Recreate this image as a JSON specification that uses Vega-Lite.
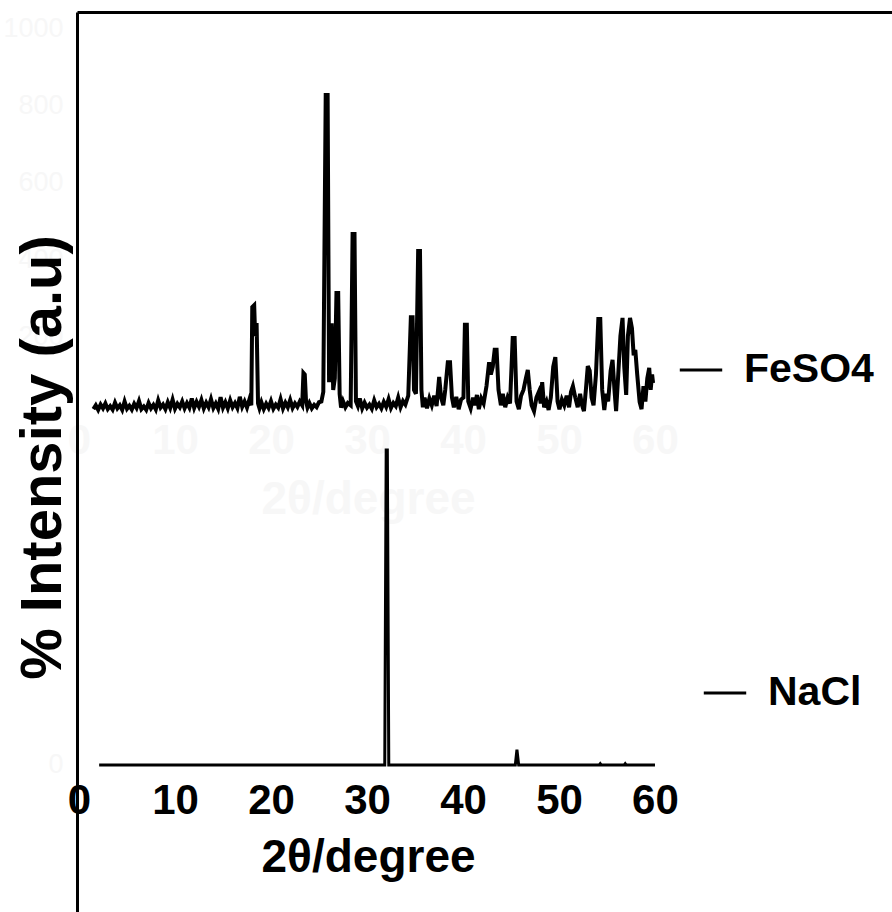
{
  "$schema": "https://vega.github.io/schema/vega-lite/v6.json",
  "width": 815,
  "height": 900,
  "autosize": "none",
  "padding": {"left": 77, "top": 12, "right": 0, "bottom": 0},
  "background": "white",
  "config": {"view": {"stroke": null}, "font": "Liberation Sans"},
  "datasets": {
    "feso4": [
      {"sample":"FeSO4","theta":1.5,"intensity":10},{"sample":"FeSO4","theta":1.75,"intensity":20},{"sample":"FeSO4","theta":2.0,"intensity":8},{"sample":"FeSO4","theta":2.25,"intensity":22},{"sample":"FeSO4","theta":2.5,"intensity":12},{"sample":"FeSO4","theta":2.75,"intensity":25},{"sample":"FeSO4","theta":3.0,"intensity":10},{"sample":"FeSO4","theta":3.25,"intensity":18},{"sample":"FeSO4","theta":3.5,"intensity":9},{"sample":"FeSO4","theta":3.75,"intensity":27},{"sample":"FeSO4","theta":4.0,"intensity":12},{"sample":"FeSO4","theta":4.25,"intensity":20},{"sample":"FeSO4","theta":4.5,"intensity":8},{"sample":"FeSO4","theta":4.75,"intensity":30},{"sample":"FeSO4","theta":5.0,"intensity":11},{"sample":"FeSO4","theta":5.25,"intensity":19},{"sample":"FeSO4","theta":5.5,"intensity":9},{"sample":"FeSO4","theta":5.75,"intensity":24},{"sample":"FeSO4","theta":6.0,"intensity":13},{"sample":"FeSO4","theta":6.25,"intensity":31},{"sample":"FeSO4","theta":6.5,"intensity":10},{"sample":"FeSO4","theta":6.75,"intensity":17},{"sample":"FeSO4","theta":7.0,"intensity":8},{"sample":"FeSO4","theta":7.25,"intensity":26},{"sample":"FeSO4","theta":7.5,"intensity":12},{"sample":"FeSO4","theta":7.75,"intensity":21},{"sample":"FeSO4","theta":8.0,"intensity":9},{"sample":"FeSO4","theta":8.25,"intensity":33},{"sample":"FeSO4","theta":8.5,"intensity":14},{"sample":"FeSO4","theta":8.75,"intensity":22},{"sample":"FeSO4","theta":9.0,"intensity":10},{"sample":"FeSO4","theta":9.25,"intensity":28},{"sample":"FeSO4","theta":9.5,"intensity":13},{"sample":"FeSO4","theta":9.75,"intensity":35},{"sample":"FeSO4","theta":10.0,"intensity":11},{"sample":"FeSO4","theta":10.25,"intensity":24},{"sample":"FeSO4","theta":10.5,"intensity":15},{"sample":"FeSO4","theta":10.75,"intensity":30},{"sample":"FeSO4","theta":11.0,"intensity":12},{"sample":"FeSO4","theta":11.25,"intensity":26},{"sample":"FeSO4","theta":11.5,"intensity":14},{"sample":"FeSO4","theta":11.75,"intensity":38},{"sample":"FeSO4","theta":12.0,"intensity":13},{"sample":"FeSO4","theta":12.25,"intensity":29},{"sample":"FeSO4","theta":12.5,"intensity":16},{"sample":"FeSO4","theta":12.75,"intensity":34},{"sample":"FeSO4","theta":13.0,"intensity":12},{"sample":"FeSO4","theta":13.25,"intensity":27},{"sample":"FeSO4","theta":13.5,"intensity":15},{"sample":"FeSO4","theta":13.75,"intensity":36},{"sample":"FeSO4","theta":14.0,"intensity":13},{"sample":"FeSO4","theta":14.25,"intensity":25},{"sample":"FeSO4","theta":14.5,"intensity":11},{"sample":"FeSO4","theta":14.75,"intensity":41},{"sample":"FeSO4","theta":15.0,"intensity":14},{"sample":"FeSO4","theta":15.25,"intensity":28},{"sample":"FeSO4","theta":15.5,"intensity":12},{"sample":"FeSO4","theta":15.75,"intensity":33},{"sample":"FeSO4","theta":16.0,"intensity":15},{"sample":"FeSO4","theta":16.25,"intensity":26},{"sample":"FeSO4","theta":16.5,"intensity":13},{"sample":"FeSO4","theta":16.75,"intensity":42},{"sample":"FeSO4","theta":17.0,"intensity":16},{"sample":"FeSO4","theta":17.25,"intensity":30},{"sample":"FeSO4","theta":17.5,"intensity":14},{"sample":"FeSO4","theta":17.75,"intensity":35},{"sample":"FeSO4","theta":17.95,"intensity":20},{"sample":"FeSO4","theta":18.05,"intensity":275},{"sample":"FeSO4","theta":18.25,"intensity":280},{"sample":"FeSO4","theta":18.35,"intensity":200},{"sample":"FeSO4","theta":18.5,"intensity":234},{"sample":"FeSO4","theta":18.65,"intensity":25},{"sample":"FeSO4","theta":18.8,"intensity":12},{"sample":"FeSO4","theta":19.0,"intensity":28},{"sample":"FeSO4","theta":19.25,"intensity":10},{"sample":"FeSO4","theta":19.5,"intensity":24},{"sample":"FeSO4","theta":19.75,"intensity":13},{"sample":"FeSO4","theta":20.0,"intensity":31},{"sample":"FeSO4","theta":20.25,"intensity":11},{"sample":"FeSO4","theta":20.5,"intensity":22},{"sample":"FeSO4","theta":20.75,"intensity":14},{"sample":"FeSO4","theta":21.0,"intensity":36},{"sample":"FeSO4","theta":21.25,"intensity":12},{"sample":"FeSO4","theta":21.5,"intensity":27},{"sample":"FeSO4","theta":21.75,"intensity":15},{"sample":"FeSO4","theta":22.0,"intensity":34},{"sample":"FeSO4","theta":22.25,"intensity":13},{"sample":"FeSO4","theta":22.5,"intensity":25},{"sample":"FeSO4","theta":22.75,"intensity":16},{"sample":"FeSO4","theta":23.0,"intensity":30},{"sample":"FeSO4","theta":23.25,"intensity":20},{"sample":"FeSO4","theta":23.38,"intensity":104},{"sample":"FeSO4","theta":23.52,"intensity":100},{"sample":"FeSO4","theta":23.65,"intensity":30},{"sample":"FeSO4","theta":23.8,"intensity":14},{"sample":"FeSO4","theta":24.0,"intensity":26},{"sample":"FeSO4","theta":24.25,"intensity":12},{"sample":"FeSO4","theta":24.5,"intensity":21},{"sample":"FeSO4","theta":24.75,"intensity":15},{"sample":"FeSO4","theta":25.0,"intensity":28},{"sample":"FeSO4","theta":25.25,"intensity":30},{"sample":"FeSO4","theta":25.45,"intensity":55},{"sample":"FeSO4","theta":25.7,"intensity":826},{"sample":"FeSO4","theta":25.9,"intensity":826},{"sample":"FeSO4","theta":26.05,"intensity":80},{"sample":"FeSO4","theta":26.18,"intensity":228},{"sample":"FeSO4","theta":26.33,"intensity":228},{"sample":"FeSO4","theta":26.48,"intensity":60},{"sample":"FeSO4","theta":26.65,"intensity":90},{"sample":"FeSO4","theta":26.82,"intensity":312},{"sample":"FeSO4","theta":27.0,"intensity":312},{"sample":"FeSO4","theta":27.15,"intensity":50},{"sample":"FeSO4","theta":27.3,"intensity":14},{"sample":"FeSO4","theta":27.5,"intensity":31},{"sample":"FeSO4","theta":27.75,"intensity":15},{"sample":"FeSO4","theta":28.0,"intensity":26},{"sample":"FeSO4","theta":28.3,"intensity":20},{"sample":"FeSO4","theta":28.5,"intensity":465},{"sample":"FeSO4","theta":28.7,"intensity":465},{"sample":"FeSO4","theta":28.85,"intensity":30},{"sample":"FeSO4","theta":29.05,"intensity":18},{"sample":"FeSO4","theta":29.25,"intensity":38},{"sample":"FeSO4","theta":29.5,"intensity":12},{"sample":"FeSO4","theta":29.75,"intensity":27},{"sample":"FeSO4","theta":30.0,"intensity":14},{"sample":"FeSO4","theta":30.25,"intensity":22},{"sample":"FeSO4","theta":30.5,"intensity":11},{"sample":"FeSO4","theta":30.75,"intensity":33},{"sample":"FeSO4","theta":31.0,"intensity":15},{"sample":"FeSO4","theta":31.25,"intensity":24},{"sample":"FeSO4","theta":31.5,"intensity":12},{"sample":"FeSO4","theta":31.75,"intensity":29},{"sample":"FeSO4","theta":32.0,"intensity":16},{"sample":"FeSO4","theta":32.25,"intensity":36},{"sample":"FeSO4","theta":32.5,"intensity":13},{"sample":"FeSO4","theta":32.75,"intensity":26},{"sample":"FeSO4","theta":33.0,"intensity":18},{"sample":"FeSO4","theta":33.25,"intensity":40},{"sample":"FeSO4","theta":33.5,"intensity":15},{"sample":"FeSO4","theta":33.75,"intensity":31},{"sample":"FeSO4","theta":34.0,"intensity":22},{"sample":"FeSO4","theta":34.3,"intensity":45},{"sample":"FeSO4","theta":34.57,"intensity":249},{"sample":"FeSO4","theta":34.75,"intensity":249},{"sample":"FeSO4","theta":34.9,"intensity":60},{"sample":"FeSO4","theta":35.1,"intensity":50},{"sample":"FeSO4","theta":35.33,"intensity":421},{"sample":"FeSO4","theta":35.52,"intensity":421},{"sample":"FeSO4","theta":35.67,"intensity":60},{"sample":"FeSO4","theta":35.82,"intensity":15},{"sample":"FeSO4","theta":36.0,"intensity":40},{"sample":"FeSO4","theta":36.25,"intensity":12},{"sample":"FeSO4","theta":36.5,"intensity":38},{"sample":"FeSO4","theta":36.75,"intensity":20},{"sample":"FeSO4","theta":37.0,"intensity":45},{"sample":"FeSO4","theta":37.25,"intensity":18},{"sample":"FeSO4","theta":37.52,"intensity":94},{"sample":"FeSO4","theta":37.72,"intensity":40},{"sample":"FeSO4","theta":37.95,"intensity":20},{"sample":"FeSO4","theta":38.15,"intensity":60},{"sample":"FeSO4","theta":38.42,"intensity":132},{"sample":"FeSO4","theta":38.65,"intensity":132},{"sample":"FeSO4","theta":38.85,"intensity":40},{"sample":"FeSO4","theta":39.05,"intensity":15},{"sample":"FeSO4","theta":39.3,"intensity":42},{"sample":"FeSO4","theta":39.55,"intensity":10},{"sample":"FeSO4","theta":39.8,"intensity":35},{"sample":"FeSO4","theta":40.05,"intensity":40},{"sample":"FeSO4","theta":40.2,"intensity":229},{"sample":"FeSO4","theta":40.4,"intensity":229},{"sample":"FeSO4","theta":40.55,"intensity":30},{"sample":"FeSO4","theta":40.8,"intensity":12},{"sample":"FeSO4","theta":41.05,"intensity":40},{"sample":"FeSO4","theta":41.25,"intensity":20},{"sample":"FeSO4","theta":41.45,"intensity":47},{"sample":"FeSO4","theta":41.65,"intensity":10},{"sample":"FeSO4","theta":41.9,"intensity":38},{"sample":"FeSO4","theta":42.15,"intensity":25},{"sample":"FeSO4","theta":42.45,"intensity":70},{"sample":"FeSO4","theta":42.72,"intensity":132},{"sample":"FeSO4","theta":42.9,"intensity":100},{"sample":"FeSO4","theta":43.1,"intensity":120},{"sample":"FeSO4","theta":43.3,"intensity":164},{"sample":"FeSO4","theta":43.5,"intensity":164},{"sample":"FeSO4","theta":43.7,"intensity":60},{"sample":"FeSO4","theta":43.95,"intensity":20},{"sample":"FeSO4","theta":44.15,"intensity":50},{"sample":"FeSO4","theta":44.4,"intensity":15},{"sample":"FeSO4","theta":44.65,"intensity":40},{"sample":"FeSO4","theta":44.9,"intensity":25},{"sample":"FeSO4","theta":45.18,"intensity":195},{"sample":"FeSO4","theta":45.38,"intensity":195},{"sample":"FeSO4","theta":45.58,"intensity":30},{"sample":"FeSO4","theta":45.82,"intensity":10},{"sample":"FeSO4","theta":46.05,"intensity":45},{"sample":"FeSO4","theta":46.3,"intensity":60},{"sample":"FeSO4","theta":46.55,"intensity":90},{"sample":"FeSO4","theta":46.75,"intensity":112},{"sample":"FeSO4","theta":46.95,"intensity":60},{"sample":"FeSO4","theta":47.15,"intensity":20},{"sample":"FeSO4","theta":47.4,"intensity":5},{"sample":"FeSO4","theta":47.65,"intensity":40},{"sample":"FeSO4","theta":47.9,"intensity":55},{"sample":"FeSO4","theta":48.1,"intensity":25},{"sample":"FeSO4","theta":48.25,"intensity":80},{"sample":"FeSO4","theta":48.45,"intensity":15},{"sample":"FeSO4","theta":48.7,"intensity":30},{"sample":"FeSO4","theta":48.92,"intensity":8},{"sample":"FeSO4","theta":49.15,"intensity":40},{"sample":"FeSO4","theta":49.4,"intensity":120},{"sample":"FeSO4","theta":49.62,"intensity":145},{"sample":"FeSO4","theta":49.85,"intensity":30},{"sample":"FeSO4","theta":50.05,"intensity":10},{"sample":"FeSO4","theta":50.3,"intensity":35},{"sample":"FeSO4","theta":50.55,"intensity":20},{"sample":"FeSO4","theta":50.8,"intensity":45},{"sample":"FeSO4","theta":51.05,"intensity":15},{"sample":"FeSO4","theta":51.25,"intensity":55},{"sample":"FeSO4","theta":51.45,"intensity":70},{"sample":"FeSO4","theta":51.7,"intensity":40},{"sample":"FeSO4","theta":51.95,"intensity":15},{"sample":"FeSO4","theta":52.2,"intensity":50},{"sample":"FeSO4","theta":52.4,"intensity":20},{"sample":"FeSO4","theta":52.6,"intensity":5},{"sample":"FeSO4","theta":52.8,"intensity":60},{"sample":"FeSO4","theta":53.0,"intensity":122},{"sample":"FeSO4","theta":53.2,"intensity":110},{"sample":"FeSO4","theta":53.4,"intensity":40},{"sample":"FeSO4","theta":53.6,"intensity":20},{"sample":"FeSO4","theta":53.85,"intensity":100},{"sample":"FeSO4","theta":54.1,"intensity":244},{"sample":"FeSO4","theta":54.3,"intensity":244},{"sample":"FeSO4","theta":54.5,"intensity":60},{"sample":"FeSO4","theta":54.72,"intensity":8},{"sample":"FeSO4","theta":54.92,"intensity":50},{"sample":"FeSO4","theta":55.12,"intensity":30},{"sample":"FeSO4","theta":55.38,"intensity":110},{"sample":"FeSO4","theta":55.58,"intensity":138},{"sample":"FeSO4","theta":55.78,"intensity":60},{"sample":"FeSO4","theta":55.95,"intensity":5},{"sample":"FeSO4","theta":56.15,"intensity":90},{"sample":"FeSO4","theta":56.4,"intensity":200},{"sample":"FeSO4","theta":56.62,"intensity":247},{"sample":"FeSO4","theta":56.8,"intensity":120},{"sample":"FeSO4","theta":57.0,"intensity":47},{"sample":"FeSO4","theta":57.18,"intensity":200},{"sample":"FeSO4","theta":57.4,"intensity":247},{"sample":"FeSO4","theta":57.6,"intensity":220},{"sample":"FeSO4","theta":57.78,"intensity":150},{"sample":"FeSO4","theta":57.95,"intensity":164},{"sample":"FeSO4","theta":58.15,"intensity":100},{"sample":"FeSO4","theta":58.4,"intensity":29},{"sample":"FeSO4","theta":58.6,"intensity":10},{"sample":"FeSO4","theta":58.8,"intensity":70},{"sample":"FeSO4","theta":59.0,"intensity":30},{"sample":"FeSO4","theta":59.2,"intensity":90},{"sample":"FeSO4","theta":59.4,"intensity":117},{"sample":"FeSO4","theta":59.55,"intensity":60},{"sample":"FeSO4","theta":59.7,"intensity":100},{"sample":"FeSO4","theta":59.8,"intensity":78}
    ],
    "nacl": [
      {"sample":"NaCl","theta":2.1,"intensity":0},{"sample":"NaCl","theta":10,"intensity":0},{"sample":"NaCl","theta":20,"intensity":0},{"sample":"NaCl","theta":31.85,"intensity":0},{"sample":"NaCl","theta":32.0,"intensity":49600},{"sample":"NaCl","theta":32.12,"intensity":49600},{"sample":"NaCl","theta":32.27,"intensity":0},{"sample":"NaCl","theta":40,"intensity":0},{"sample":"NaCl","theta":45.45,"intensity":0},{"sample":"NaCl","theta":45.62,"intensity":2400},{"sample":"NaCl","theta":45.8,"intensity":0},{"sample":"NaCl","theta":54.2,"intensity":0},{"sample":"NaCl","theta":54.3,"intensity":200},{"sample":"NaCl","theta":54.4,"intensity":0},{"sample":"NaCl","theta":56.8,"intensity":0},{"sample":"NaCl","theta":56.9,"intensity":200},{"sample":"NaCl","theta":57.0,"intensity":0},{"sample":"NaCl","theta":60,"intensity":0}
    ]
  },
  "layer": [
    {
      "data": {"name": "feso4"},
      "mark": {"type": "point", "opacity": 0},
      "encoding": {
        "x": {"field": "theta", "type": "quantitative", "scale": {"domain": [-0.208, 84.69], "nice": false, "zero": false},
          "axis": {"orient": "top", "labels": false, "ticks": false, "grid": false, "domain": true, "domainColor": "black", "domainWidth": 3, "title": null}},
        "y": {"field": "intensity", "type": "quantitative", "scale": {"domain": [-1296.1, 1041.6], "nice": false, "zero": false}, "axis": null}
      }
    },
    {
      "data": {"name": "feso4"},
      "mark": {"type": "line", "strokeWidth": 4},
      "encoding": {
        "x": {"field": "theta", "type": "quantitative", "scale": {"domain": [-0.208, 84.69], "nice": false, "zero": false},
          "axis": {"orient": "bottom", "offset": -492, "values": [0,10,20,30,40,50,60], "domain": false, "ticks": false, "tickSize": 0, "grid": false, "labelPadding": 0, "labelFlush": false, "labelOverlap": false, "labelFontSize": 42, "labelFontWeight": "bold", "labelColor": "#f7f7f7", "labelBaseline": "top",
            "title": "2θ/degree", "titleColor": "#f7f7f7", "titleFontSize": 46, "titleFontWeight": "bold", "titleX": 291, "titleY": 57, "titleAlign": "center", "titleBaseline": "top"}},
        "y": {"field": "intensity", "type": "quantitative", "scale": {"domain": [-1296.1, 1041.6], "nice": false, "zero": false},
          "axis": {"orient": "left", "values": [200,400,600,800,1000], "format": "d", "domain": true, "domainColor": "black", "domainWidth": 3, "ticks": false, "tickSize": 0, "grid": false, "labelPadding": 14, "labelFontSize": 27, "labelColor": "#f7f7f7", "labelOverlap": false,
            "title": "% Intensity (a.u)", "titleColor": "black", "titleFontSize": 58, "titleFontWeight": "bold", "titleAngle": 270, "titleX": -17, "titleY": 445, "titleAlign": "center", "titleBaseline": "alphabetic"}},
        "color": {"field": "sample", "type": "nominal", "scale": {"range": ["black"]},
          "legend": {"orient": "none", "legendX": 601, "legendY": 335, "title": null, "padding": 0, "symbolType": "stroke", "symbolStrokeWidth": 3, "symbolSize": 1800, "labelFontSize": 41, "labelFontWeight": "bold", "labelColor": "black", "labelOffset": 20, "labelLimit": 500}}
      }
    },
    {
      "data": {"name": "nacl"},
      "mark": {"type": "line", "strokeWidth": 3},
      "encoding": {
        "x": {"field": "theta", "type": "quantitative", "scale": {"domain": [-0.208, 84.69], "nice": false, "zero": false},
          "axis": {"orient": "bottom", "offset": -132, "values": [0,10,20,30,40,50,60], "domain": false, "ticks": false, "tickSize": 0, "grid": false, "labelPadding": 0, "labelFlush": false, "labelOverlap": false, "labelFontSize": 42, "labelFontWeight": "bold", "labelColor": "black", "labelBaseline": "top",
            "title": "2θ/degree", "titleColor": "black", "titleFontSize": 46, "titleFontWeight": "bold", "titleX": 291, "titleY": 55, "titleAlign": "center", "titleBaseline": "top"}},
        "y": {"field": "intensity", "type": "quantitative", "scale": {"domain": [-23150, 118583], "nice": false, "zero": false},
          "axis": {"orient": "left", "values": [0], "format": "d", "domain": false, "ticks": false, "tickSize": 0, "grid": false, "labelPadding": 14, "labelFontSize": 27, "labelColor": "#f7f7f7", "labelOverlap": false, "title": null}},
        "color": {"field": "sample", "type": "nominal", "scale": {"range": ["black"]},
          "legend": {"orient": "none", "legendX": 625, "legendY": 658, "title": null, "padding": 0, "symbolType": "stroke", "symbolStrokeWidth": 3, "symbolSize": 1800, "labelFontSize": 41, "labelFontWeight": "bold", "labelColor": "black", "labelOffset": 20, "labelLimit": 500}}
      }
    }
  ],
  "resolve": {"scale": {"y": "independent", "color": "independent"}, "axis": {"x": "independent", "y": "independent"}}
}
